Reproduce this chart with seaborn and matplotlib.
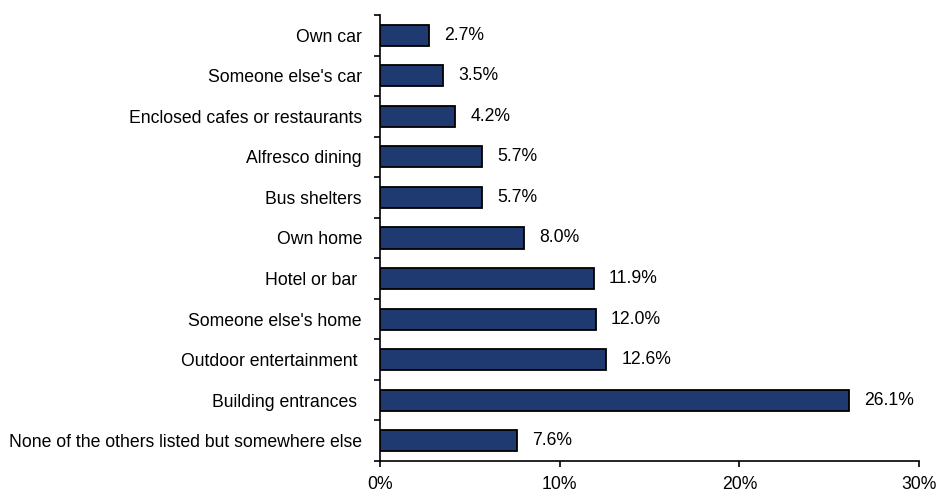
import matplotlib
matplotlib.use("Agg")
import matplotlib.pyplot as plt
import seaborn as sns
import pandas as pd
import numpy as np
from matplotlib.ticker import FixedLocator, PercentFormatter

categories = ["Own car", "Someone else's car", "Enclosed cafes or restaurants",
              "Alfresco dining", "Bus shelters", "Own home", "Hotel or bar ",
              "Someone else's home", "Outdoor entertainment ", "Building entrances ",
              "None of the others listed but somewhere else"]
values = [2.7, 3.5, 4.2, 5.7, 5.7, 8.0, 11.9, 12.0, 12.6, 26.1, 7.6]
xticks = [0, 10, 20, 30]

sns.set_theme(style="white")
plt.rcParams['font.family'] = ['Liberation Sans', 'DejaVu Sans']

df = pd.DataFrame({"cat": categories, "val": values})

fig = plt.figure(figsize=(9.37, 4.95), dpi=100)
ax = fig.add_axes([380/937, 34/495, (919-380)/937, (461-15)/495])

sns.barplot(data=df, x="val", y="cat", orient="h", color="#1F3A70",
            saturation=1, width=0.52, edgecolor="black", linewidth=1.3, ax=ax)

fs = 12.7
for i, v in enumerate(values):
    ax.annotate(f"{v:.1f}%", xy=(v, i), xytext=(11, 0), textcoords="offset points",
                va="center", ha="left", fontsize=fs, color="black")

ax.set_xlim(0, 30)
ax.set_ylim(len(categories) - 0.5, -0.5)
ax.set_xticks(xticks)
ax.xaxis.set_major_formatter(PercentFormatter(decimals=0))
ax.set_xlabel("")
ax.set_ylabel("")
ax.yaxis.set_minor_locator(FixedLocator(np.arange(-0.5, len(categories), 1.0)))
ax.tick_params(axis="y", which="major", length=0, pad=13, labelsize=fs, labelcolor="black")
ax.tick_params(axis="y", which="minor", left=True, length=4.5, width=1.2, color="black", direction="out")
ax.tick_params(axis="x", which="major", bottom=True, length=4.5, width=1.2, color="black",
               direction="out", pad=6, labelsize=fs, labelcolor="black")

sns.despine(ax=ax, top=True, right=True)
for s in ["left", "bottom"]:
    ax.spines[s].set_color("black")
    ax.spines[s].set_linewidth(1.2)
ax.grid(False)

fig.savefig("out.png", dpi=100)
